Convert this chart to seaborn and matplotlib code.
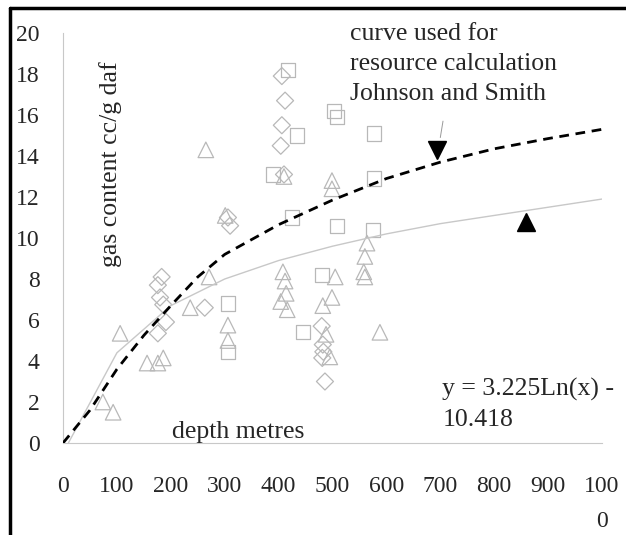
import matplotlib
matplotlib.use("Agg")
import matplotlib.pyplot as plt
import numpy as np
import pandas as pd
import seaborn as sns

# open square samples
sq_x = [417, 503, 508, 434, 577, 389, 425, 508, 575, 577, 480, 445, 306, 306]
sq_y = [18.2, 16.2, 15.9, 15.0, 15.1, 13.1, 11.0, 10.6, 10.4, 12.9, 8.2, 5.4, 6.8, 4.45]

# open diamond samples
dia_x = [406, 412, 406, 404, 410, 306, 310, 183, 176, 180, 186, 263, 191, 176,
         480, 482, 483, 481, 486]
dia_y = [17.9, 16.7, 15.5, 14.5, 13.1, 11.0, 10.6, 8.1, 7.7, 7.1, 6.75, 6.6, 5.9, 5.35,
         5.7, 4.8, 4.45, 4.15, 3.0]

# open triangle samples
tri_x = [265, 410, 499, 499, 301, 564, 560, 558, 560, 408, 412, 414, 404, 416,
         505, 499, 482, 488, 495, 588, 271, 236, 106, 306, 306, 156, 176, 186, 74, 93]
tri_y = [14.3, 13.0, 12.8, 12.4, 11.1, 9.75, 9.1, 8.35, 8.1, 8.35, 7.9, 7.3, 6.9, 6.5,
         8.1, 7.1, 6.7, 5.3, 4.2, 5.4, 8.1, 6.6, 5.35, 5.75, 5.0, 3.9, 3.9, 4.15, 2.0, 1.5]

# curve used for resource calculation (Johnson and Smith)
js_x = [0, 50, 100, 150, 200, 250, 300, 400, 500, 600, 700, 800, 900, 1000]
js_y = [0, 1.6, 3.6, 5.25, 6.7, 8.1, 9.2, 10.65, 11.85, 12.9, 13.7, 14.35, 14.85, 15.3]

# log trend line
fit_x = [10, 100, 200, 300, 400, 500, 600, 700, 800, 900, 1000]
fit_y = [0.0, 4.4, 6.7, 8.0, 8.9, 9.6, 10.2, 10.7, 11.1, 11.5, 11.9]

# black pointer markers
down_pt = (694, 14.3)
up_pt = (859, 10.8)

x_ticks = [0, 100, 200, 300, 400, 500, 600, 700, 800, 900, 1000]
x_labels = ["0", "100", "200", "300", "400", "500", "600", "700", "800", "900", "100\n0"]
y_ticks = [0, 2, 4, 6, 8, 10, 12, 14, 16, 18, 20]

sns.set_style("white")
plt.rcParams["font.family"] = ["Liberation Serif", "DejaVu Serif"]

fig = plt.figure(figsize=(6.26, 5.35), dpi=100)
ax = fig.add_axes([63 / 626, 1 - 443 / 535, 539 / 626, 410 / 535])

grey = "#b8b8b8"
mk = dict(facecolor="none", edgecolor=grey, linewidth=0.9, ax=ax, legend=False, zorder=2)
sns.scatterplot(x=sq_x, y=sq_y, marker="s", s=105, **mk)
sns.scatterplot(x=dia_x, y=dia_y, marker="D", s=75, **mk)
sns.scatterplot(x=tri_x, y=tri_y, marker="^", s=125, **mk)

sns.lineplot(x=fit_x, y=fit_y, color="#c8c8c8", linewidth=1.0, ax=ax, zorder=3)
sns.lineplot(x=js_x, y=js_y, color="black", linewidth=2.0, ax=ax, zorder=4,
             linestyle=(0, (3.5, 2.4)))

ax.plot(*down_pt, marker="v", color="black", markersize=13.5, zorder=5)
ax.plot(*up_pt, marker="^", color="black", markersize=13.5, zorder=5)
ax.plot([705, 700], [15.7, 14.9], color="#999999", linewidth=0.7, zorder=5)

ax.set_xlim(0, 1000)
ax.set_ylim(0, 20)
ax.set_xticks(x_ticks)
ax.set_xticklabels(x_labels, fontsize=17, linespacing=1.85)
ax.set_yticks(y_ticks)
ax.set_yticklabels([str(v) for v in y_ticks], fontsize=17)
ax.tick_params(axis="both", length=7, width=0.8, color="#c8c8c8", direction="out")
ax.tick_params(axis="x", pad=17)
ax.tick_params(axis="y", pad=10)
for s in ["top", "right"]:
    ax.spines[s].set_visible(False)
for s in ["left", "bottom"]:
    ax.spines[s].set_color("#c8c8c8")
    ax.spines[s].set_linewidth(0.8)
ax.set_xlabel("")
ax.set_ylabel("")

ax.text(88, 13.6, "gas content cc/g daf", rotation=90, fontsize=18.5, ha="center", va="center")
ax.text(325, 0.02, "depth metres", fontsize=18.5, ha="center", va="bottom")
ax.text(532, 20.5, "curve used for\nresource calculation\nJohnson and Smith",
        fontsize=18.5, ha="left", va="top", linespacing=1.48)
ax.text(704, 1.9, "y = 3.225Ln(x) -\n10.418", fontsize=18.5, ha="left", va="center",
        linespacing=1.48)

# figure frame (left and top edges)
fig.add_artist(plt.Line2D([10 / 626, 10 / 626], [0, 1 - 8 / 535], transform=fig.transFigure,
                          color="black", linewidth=2.5))
fig.add_artist(plt.Line2D([10 / 626, 1], [1 - 8 / 535, 1 - 8 / 535], transform=fig.transFigure,
                          color="black", linewidth=2.5))

fig.savefig("out.png", dpi=100)
